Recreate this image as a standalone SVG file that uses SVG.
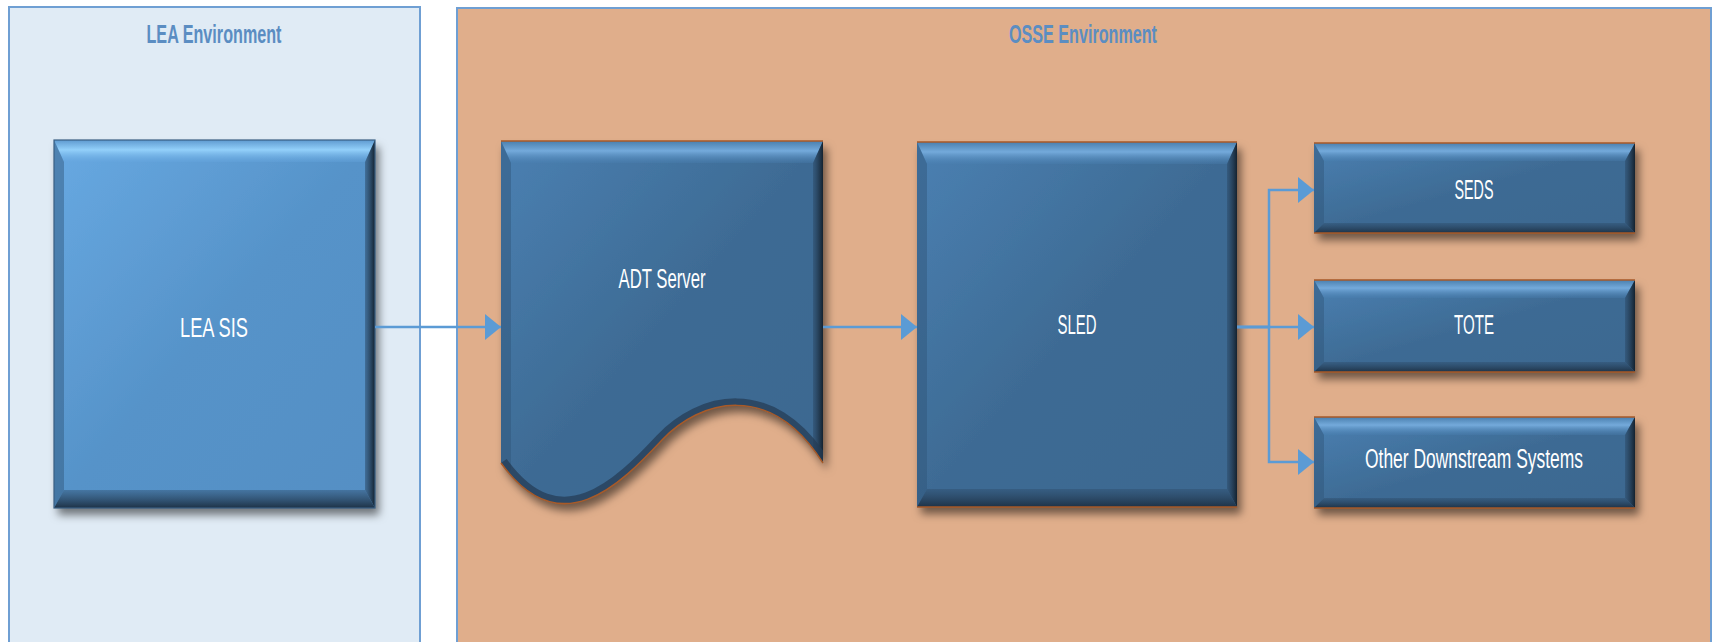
<svg xmlns="http://www.w3.org/2000/svg" width="1713" height="642" viewBox="0 0 1713 642">
<defs>
<style>
.env{font-family:"Liberation Sans",Arial,sans-serif;font-size:25px;font-weight:bold;fill:#5b8dc2;text-anchor:middle}
.lbl{font-family:"Liberation Sans",Arial,sans-serif;font-size:27px;fill:#ffffff;text-anchor:middle}
.con{fill:none;stroke:#5b9bd5;stroke-width:2.5}
.topA{fill:url(#tA)}
.topB{fill:url(#tB)}
.right{fill:url(#rG)}
.bottom{fill:url(#bG)}
.left{fill:#2f5478;opacity:0.45}
.edgeB{fill:none;stroke:#a85a28;stroke-width:1.5}
.edgeA{fill:none;stroke:#3a5f84;stroke-width:1.2}
</style>
<linearGradient id="gA" x1="0" y1="0" x2="1" y2="1">
<stop offset="0" stop-color="#68a9e2"/><stop offset="0.5" stop-color="#5693c9"/><stop offset="1" stop-color="#548fc4"/>
</linearGradient>
<linearGradient id="gB" x1="0" y1="0" x2="1" y2="1">
<stop offset="0" stop-color="#4a80b2"/><stop offset="0.5" stop-color="#3e6b94"/><stop offset="1" stop-color="#3c6890"/>
</linearGradient>
<linearGradient id="tA" x1="0" y1="0" x2="0" y2="1">
<stop offset="0" stop-color="#5e9ad0"/><stop offset="0.45" stop-color="#93d0fa"/><stop offset="1" stop-color="#66a6df" stop-opacity="0.3"/>
</linearGradient>
<linearGradient id="tB" x1="0" y1="0" x2="0" y2="1">
<stop offset="0" stop-color="#4a7fae"/><stop offset="0.45" stop-color="#74aadb"/><stop offset="1" stop-color="#4a80b2" stop-opacity="0.3"/>
</linearGradient>
<linearGradient id="rG" x1="0" y1="0" x2="1" y2="0">
<stop offset="0" stop-color="#2c4a68" stop-opacity="0.5"/><stop offset="1" stop-color="#14222f"/>
</linearGradient>
<linearGradient id="bG" x1="0" y1="0" x2="0" y2="1">
<stop offset="0" stop-color="#2c4a68" stop-opacity="0.4"/><stop offset="1" stop-color="#1e3246"/>
</linearGradient>
<filter id="sh" x="-10%" y="-10%" width="125%" height="130%">
<feDropShadow dx="4" dy="7" stdDeviation="4" flood-color="#000" flood-opacity="0.5"/>
</filter>
<marker id="ah" markerWidth="16" markerHeight="26" refX="16" refY="13" orient="auto" markerUnits="userSpaceOnUse">
<path d="M0,0 L16,13 L0,26 Z" fill="#5b9bd5"/>
</marker>
<clipPath id="docClip">
<path d="M501,141 H823 V463 C770,380 700,400 662,440 C620,485 560,545 501,463 Z"/>
</clipPath>
</defs>

<g id="lea-env">
<rect x="9" y="7" width="411" height="645" fill="#e0ebf5" stroke="#6f9fd3" stroke-width="2"/>
<text class="env" x="214" y="43" textLength="135" lengthAdjust="spacingAndGlyphs">LEA Environment</text>
</g>

<g id="osse-env">
<rect x="457" y="8" width="1254" height="645" fill="#e0ae8b" stroke="#6f9fd3" stroke-width="2"/>
<text class="env" x="1083" y="43" textLength="148" lengthAdjust="spacingAndGlyphs">OSSE Environment</text>
</g>

<g id="lea-sis">
<rect x="54" y="140" width="321" height="368" fill="url(#gA)" filter="url(#sh)"/>
<polygon class="topA" points="54,140 375,140 365,162 64,162"/>
<polygon class="left" points="54,140 64,162 64,490 54,508"/>
<polygon class="right" points="375,140 375,508 365,490 365,162"/>
<polygon class="bottom" points="54,508 375,508 365,490 64,490"/>
<rect class="edgeA" x="54" y="140" width="321" height="368"/>
<text class="lbl" x="214" y="337" font-size="29" textLength="68" lengthAdjust="spacingAndGlyphs">LEA SIS</text>
</g>

<g id="adt-server">
<path d="M501,141 H823 V463 C770,380 700,400 662,440 C620,485 560,545 501,463 Z" fill="url(#gB)" filter="url(#sh)"/>
<g clip-path="url(#docClip)">
<polygon class="topB" points="501,141 823,141 813,163 511,163"/>
<polygon class="left" points="501,141 511,163 511,470 501,480"/>
<polygon class="right" points="823,141 823,470 813,455 813,163"/>
<path d="M823,463 C770,380 700,400 662,440 C620,485 560,545 501,463" fill="none" stroke="#233a52" stroke-width="14" opacity="0.7"/>
</g>
<path class="edgeB" d="M501,141 H823 M823,463 C770,380 700,400 662,440 C620,485 560,545 501,463"/>
<text class="lbl" x="662" y="288" textLength="87" lengthAdjust="spacingAndGlyphs">ADT Server</text>
</g>

<g id="sled">
<rect x="917" y="142" width="320" height="365" fill="url(#gB)" filter="url(#sh)"/>
<polygon class="topB" points="917,142 1237,142 1227,164 927,164"/>
<polygon class="left" points="917,142 927,164 927,489 917,507"/>
<polygon class="right" points="1237,142 1237,507 1227,489 1227,164"/>
<polygon class="bottom" points="917,507 1237,507 1227,489 927,489"/>
<path class="edgeB" d="M917,142 H1237 M917,507 H1237"/>
<text class="lbl" x="1077" y="334" textLength="39" lengthAdjust="spacingAndGlyphs">SLED</text>
</g>

<g id="seds">
<rect x="1314" y="143" width="321" height="90" fill="url(#gB)" filter="url(#sh)"/>
<polygon class="topB" points="1314,143 1635,143 1625,161 1324,161"/>
<polygon class="left" points="1314,143 1324,161 1324,223 1314,233"/>
<polygon class="right" points="1635,143 1635,233 1625,223 1625,161"/>
<polygon class="bottom" points="1314,233 1635,233 1625,223 1324,223"/>
<path class="edgeB" d="M1314,143 H1635 M1314,233 H1635"/>
<text class="lbl" x="1474" y="199" font-size="26" textLength="39" lengthAdjust="spacingAndGlyphs">SEDS</text>
</g>

<g id="tote">
<rect x="1314" y="280" width="321" height="92" fill="url(#gB)" filter="url(#sh)"/>
<polygon class="topB" points="1314,280 1635,280 1625,298 1324,298"/>
<polygon class="left" points="1314,280 1324,298 1324,362 1314,372"/>
<polygon class="right" points="1635,280 1635,372 1625,362 1625,298"/>
<polygon class="bottom" points="1314,372 1635,372 1625,362 1324,362"/>
<path class="edgeB" d="M1314,280 H1635 M1314,372 H1635"/>
<text class="lbl" x="1474" y="334" font-size="26" textLength="40" lengthAdjust="spacingAndGlyphs">TOTE</text>
</g>

<g id="other-downstream">
<rect x="1314" y="417" width="321" height="91" fill="url(#gB)" filter="url(#sh)"/>
<polygon class="topB" points="1314,417 1635,417 1625,435 1324,435"/>
<polygon class="left" points="1314,417 1324,435 1324,498 1314,508"/>
<polygon class="right" points="1635,417 1635,508 1625,498 1625,435"/>
<polygon class="bottom" points="1314,508 1635,508 1625,498 1324,498"/>
<path class="edgeB" d="M1314,417 H1635 M1314,508 H1635"/>
<text class="lbl" x="1474" y="468" font-size="26" textLength="218" lengthAdjust="spacingAndGlyphs">Other Downstream Systems</text>
</g>

<g id="connectors">
<path class="con" d="M375,327 H501" marker-end="url(#ah)"/>
<path class="con" d="M823,327 H917" marker-end="url(#ah)"/>
<path class="con" d="M1237,327 H1269 V190 H1314" marker-end="url(#ah)"/>
<path class="con" d="M1237,327 H1314" marker-end="url(#ah)"/>
<path class="con" d="M1237,327 H1269 V462 H1314" marker-end="url(#ah)"/>
</g>
</svg>
